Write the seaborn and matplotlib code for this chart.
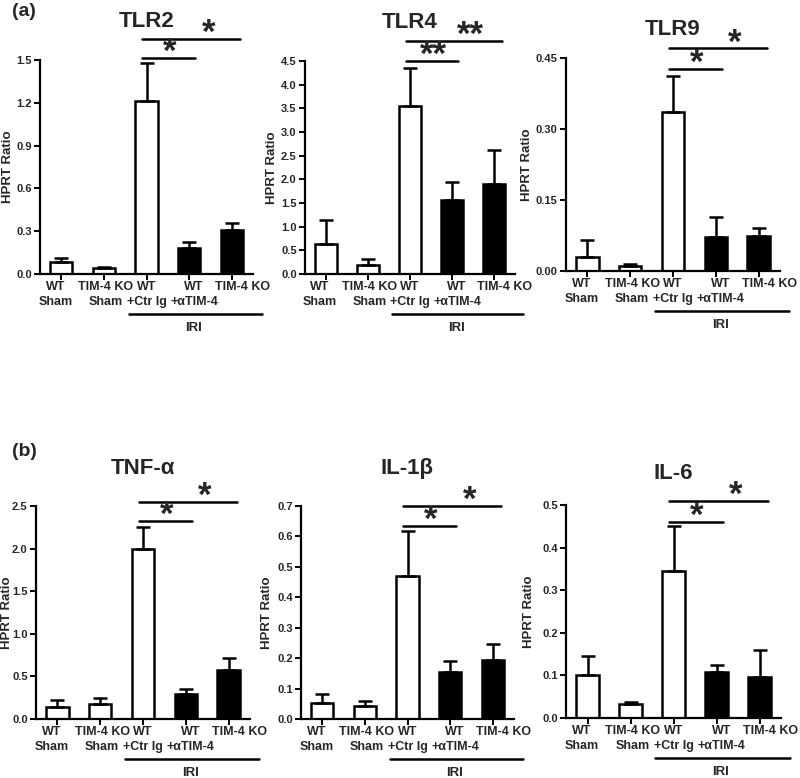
import matplotlib
matplotlib.use("Agg")
import matplotlib.pyplot as plt
import seaborn as sns
import numpy as np
import pandas as pd

# group labels shared by every panel
groups = ["WT\nSham", "TIM-4 KO\nSham", "WT\n+Ctr Ig", "WT\n+\u03b1TIM-4", "TIM-4 KO"]
bar_colors = ["white", "white", "white", "black", "black"]

# values (mean, upper error)
tlr2_mean = [0.082, 0.044, 1.21, 0.18, 0.308]
tlr2_err = [0.028, 0.004, 0.267, 0.047, 0.047]
tlr4_mean = [0.63, 0.18, 3.55, 1.56, 1.90]
tlr4_err = [0.52, 0.14, 0.80, 0.39, 0.73]
tlr9_mean = [0.030, 0.011, 0.336, 0.071, 0.073]
tlr9_err = [0.036, 0.004, 0.075, 0.044, 0.017]
tnf_mean = [0.137, 0.176, 2.00, 0.29, 0.58]
tnf_err = [0.083, 0.074, 0.25, 0.06, 0.14]
il1b_mean = [0.054, 0.044, 0.469, 0.154, 0.194]
il1b_err = [0.029, 0.014, 0.148, 0.036, 0.054]
il6_mean = [0.100, 0.034, 0.344, 0.107, 0.096]
il6_err = [0.045, 0.004, 0.106, 0.017, 0.063]

titles = ["TLR2", "TLR4", "TLR9", "TNF-\u03b1", "IL-1\u03b2", "IL-6"]
y_tops = [1.5, 4.5, 0.45, 2.5, 0.7, 0.5]
y_steps = [0.3, 0.5, 0.15, 0.5, 0.1, 0.1]
y_fmts = ["{:.1f}", "{:.1f}", "{:.2f}", "{:.1f}", "{:.1f}", "{:.1f}"]
stars = ["*", "**", "*", "*", "*", "*"]

sns.set_theme(style="ticks")
plt.rcParams["font.family"] = ["Liberation Sans", "DejaVu Sans"]
plt.rcParams["font.weight"] = "bold"

W, H = 800, 778
fig = plt.figure(figsize=(W / 100, H / 100), dpi=100)

# (left px, right px, baseline px, top-tick px, title frac, short-line frac, long-line frac, ylabel px)
layout = [
    (40, 253, 274, 60, 1.178, 1.01, 1.10, -26),
    (305, 515, 274, 61, 1.183, 1.00, 1.094, -27),
    (566, 780, 271, 58, 1.136, 0.95, 1.045, -33),
    (36, 250, 719, 506, 1.178, 0.93, 1.02, -23),
    (301, 514, 719, 506, 1.178, 0.906, 1.00, -28),
    (566, 781, 718, 505, 1.15, 0.92, 1.02, -31),
]

data = [
    (tlr2_mean, tlr2_err), (tlr4_mean, tlr4_err), (tlr9_mean, tlr9_err),
    (tnf_mean, tnf_err), (il1b_mean, il1b_err), (il6_mean, il6_err),
]

# group labels sit a little off their ticks in the original (px)
label_shift = [-6, 2, 0, 5, 11]

ext = 1.12
for i, (means, errs) in enumerate(data):
    left, right, base, toppx, tfrac, sfrac, lfrac, ylab = layout[i]
    top = y_tops[i]
    span = base - toppx
    ax = fig.add_axes([left / W, 1 - base / H, (right - left) / W, span * ext / H])

    df = pd.DataFrame({"group": groups, "value": means})
    sns.barplot(data=df, x="group", y="value", hue="group", order=groups,
                palette=dict(zip(groups, bar_colors)), legend=False,
                width=0.52, edgecolor="black", linewidth=1.8, ax=ax)
    ax.errorbar(range(5), means, yerr=[np.zeros(5), errs], fmt="none",
                ecolor="black", elinewidth=1.8, capsize=5, capthick=1.8, zorder=1)

    ax.set_xlim(-0.5, 4.5)
    ax.set_ylim(0, top * ext)
    ax.tick_params(axis="both", length=4, width=1.4, color="black", pad=2)
    ticks = np.arange(0, top + y_steps[i] / 2, y_steps[i])
    ax.set_yticks(ticks)
    ax.set_yticklabels([y_fmts[i].format(t) for t in ticks], fontsize=8, fontweight="bold")
    ax.set_xticks(range(5))
    ax.set_xticklabels([""] * 5)
    # each line of a group label drawn on its own, like the original
    for j, (g, dx) in enumerate(zip(groups, label_shift)):
        for k, line in enumerate(g.split("\n")):
            ax.annotate(line, (j, 0), xycoords=("data", "axes fraction"),
                        xytext=(dx * 0.72, -5 - 10.8 * k), textcoords="offset points",
                        ha="center", va="top", fontsize=9, fontweight="bold")
    ax.spines["left"].set_bounds(0, top)
    for s in ["top", "right"]:
        ax.spines[s].set_visible(False)
    for s in ["left", "bottom"]:
        ax.spines[s].set_linewidth(1.6)
        ax.spines[s].set_color("black")
    ax.set_xlabel("")
    ax.set_ylabel("HPRT Ratio", fontsize=9.5, fontweight="bold")
    ax.yaxis.set_label_coords(ylab / (right - left), 0.5 / ext)

    ax.text(2, top * tfrac, titles[i], ha="center", va="center",
            fontsize=16, fontweight="bold", clip_on=False)

    # significance lines
    y_s = top * sfrac
    y_l = top * lfrac
    ax.plot([1.9, 3.15], [y_s, y_s], color="black", lw=1.8, clip_on=False)
    ax.plot([1.9, 4.2], [y_l, y_l], color="black", lw=1.8, clip_on=False)
    ax.annotate(stars[i], (2.55, y_s), xytext=(0, 4), textcoords="offset points",
                ha="center", va="center", fontsize=25, fontweight="bold")
    ax.annotate(stars[i], (3.45, y_l), xytext=(0, 4), textcoords="offset points",
                ha="center", va="center", fontsize=25, fontweight="bold")

    # IRI bracket under the axis
    y_iri = -40 / span * top
    ax.plot([1.58, 4.7], [y_iri, y_iri], color="black", lw=1.8, clip_on=False)
    ax.text(3.1, -54 / span * top, "IRI", ha="center", va="center",
            fontsize=9.5, fontweight="bold", clip_on=False)

fig.text(12 / W, 1 - 12 / H, "(a)", fontsize=14, fontweight="bold", va="center", ha="left")
fig.text(12 / W, 1 - 452 / H, "(b)", fontsize=14, fontweight="bold", va="center", ha="left")

fig.savefig("out.png", dpi=100)
